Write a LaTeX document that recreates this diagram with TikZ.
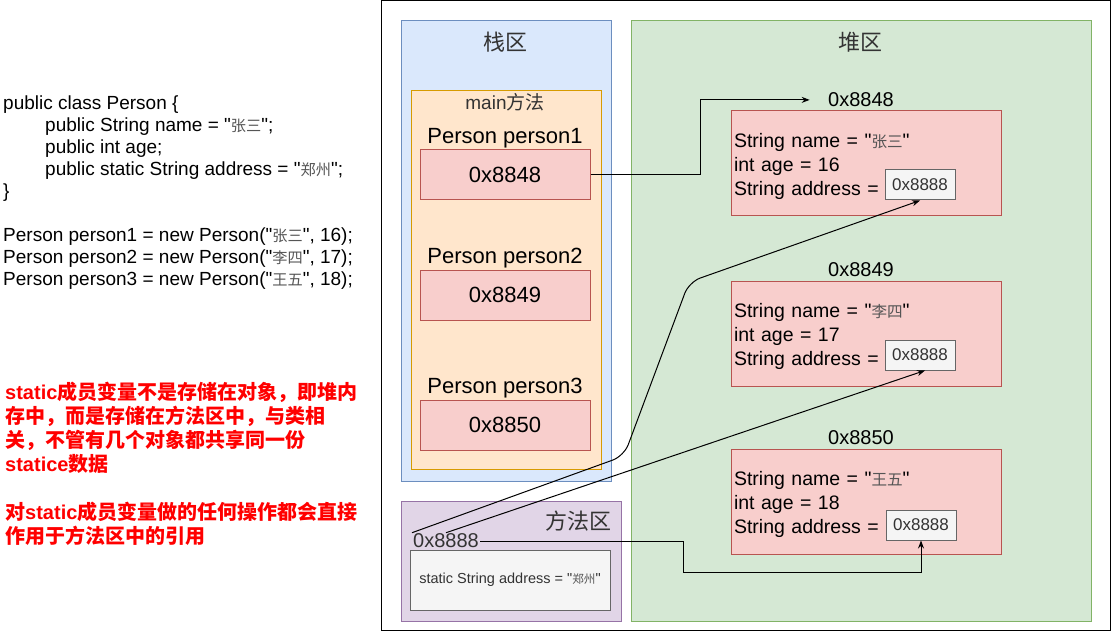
\documentclass[tikz,border=0pt]{standalone}
\usepackage{fontspec}
\newfontfamily\arial{Liberation Sans}
\newfontfamily\cjk{Noto Sans CJK SC}
\newfontfamily\cjksm[Scale=0.8]{Noto Sans CJK SC}
\usepackage{xcolor}
\usepackage{tikz}
\usetikzlibrary{arrows.meta, positioning}

\definecolor{stackfill}{HTML}{DAE8FC}
\definecolor{stackline}{HTML}{6C8EBF}
\definecolor{mainfill}{HTML}{FFE6CC}
\definecolor{mainline}{HTML}{D79B00}
\definecolor{valfill}{HTML}{F8CECC}
\definecolor{valline}{HTML}{B85450}
\definecolor{heapfill}{HTML}{D5E8D4}
\definecolor{heapline}{HTML}{82B366}
\definecolor{methfill}{HTML}{E1D5E7}
\definecolor{methline}{HTML}{9673A6}
\definecolor{reffill}{HTML}{F5F5F5}
\definecolor{refline}{HTML}{666666}
\definecolor{darktext}{HTML}{333333}
\definecolor{zhgray}{HTML}{555555}
\definecolor{notered}{HTML}{FF0000}

\newcommand{\zh}[1]{{\cjk #1}}
\newcommand{\zhs}[1]{{\cjksm\color{zhgray}#1}}
\newcommand{\fsz}[2]{\arial\fontsize{#1}{#2}\selectfont}

\tikzset{
  region/.style={rectangle, draw, line width=1pt, anchor=north west, inner sep=0pt},
  title/.style={font=\fsz{22}{26}, text=darktext},
  valbox/.style={rectangle, draw=valline, fill=valfill, line width=1pt, minimum width=170, minimum height=50, font=\fsz{22}{26}},
  varlabel/.style={font=\fsz{22}{26}},
  objbox/.style={rectangle, draw=valline, fill=valfill, line width=1pt, anchor=north west, minimum width=270, minimum height=105, text width=264, inner xsep=3pt, inner ysep=0pt, align=left, font=\fsz{19.5}{24}},
  addr/.style={font=\fsz{20}{24}},
  refbox/.style={rectangle, draw=refline, fill=reffill, line width=1pt, minimum width=70, minimum height=30, text=darktext, font=\fsz{17}{20}},
  arrow/.style={-{Stealth[length=8pt, width=6pt]}, line width=1pt},
}

\begin{document}
\begin{tikzpicture}[x=1pt, y=-1pt]
  \useasboundingbox (0,0) rectangle (1111,631);

  % source code and note
  \node[anchor=north west, inner sep=0pt, align=left, font=\fsz{19}{22}] (code) at (3,96) {public class Person \{\\
    \hspace*{42pt}public String name = "\zhs{张三}";\\
    \hspace*{42pt}public int age;\\
    \hspace*{42pt}public static String address = "\zhs{郑州}";\\
    \}\\[22pt]
    Person person1 = new Person("\zhs{张三}", 16);\\
    Person person2 = new Person("\zhs{李四}", 17);\\
    Person person3 = new Person("\zhs{王五}", 18);};
  \node[anchor=north west, inner sep=0pt, align=left, text=notered, font=\bfseries\fsz{20}{24}] (note) at (5,382) {static\zh{成员变量不是存储在对象，即堆内}\\
    \zh{存中，而是存储在方法区中，与类相}\\
    \zh{关，不管有几个对象都共享同一份}\\
    statice\zh{数据}\\[24pt]
    \zh{对}static\zh{成员变量做的任何操作都会直接}\\
    \zh{作用于方法区中的引用}};

  \node[region, draw=black, minimum width=729, minimum height=629] (mem) at (380.5,0.5) {};

  % stack
  \node[region, draw=stackline, fill=stackfill, minimum width=210, minimum height=460] (stack) at (400.5,20.5) {};
  \node[title] (stacktitle) at (505,42) {\zh{栈区}};
  \node[region, draw=mainline, fill=mainfill, minimum width=190, minimum height=378] (main) at (410.5,90.5) {};
  \node[font=\fsz{19}{22}, text=darktext] (maintitle) at (505,102) {main\zh{方法}};
  \node[valbox] (p1) at (505,175) {0x8848};
  \node[varlabel, above=-2pt of p1] (p1name) {Person person1};
  \node[valbox] (p2) at (505,295) {0x8849};
  \node[varlabel, above=-2pt of p2] (p2name) {Person person2};
  \node[valbox] (p3) at (505,425) {0x8850};
  \node[varlabel, above=-2pt of p3] (p3name) {Person person3};

  % heap
  \node[region, draw=heapline, fill=heapfill, minimum width=460, minimum height=600] (heap) at (630.5,20.5) {};
  \node[title] (heaptitle) at (860,42) {\zh{堆区}};
  \node[objbox] (obj1) at (730.5,110.5) {\rule{0pt}{20pt}String name = "\zhs{张三}"\\int age = 16\\String address =};
  \node[addr, above=0pt of obj1, xshift=-5pt] (addr1) {0x8848};
  \node[refbox] (ref1) at (920,185) {0x8888};
  \node[objbox] (obj2) at (730.5,280.5) {\rule{0pt}{20pt}String name = "\zhs{李四}"\\int age = 17\\String address =};
  \node[addr, above=0pt of obj2, xshift=-5pt] (addr2) {0x8849};
  \node[refbox] (ref2) at (920,355) {0x8888};
  \node[objbox] (obj3) at (730.5,448.5) {\rule{0pt}{20pt}String name = "\zhs{王五}"\\int age = 18\\String address =};
  \node[addr, above=0pt of obj3, xshift=-5pt] (addr3) {0x8850};
  \node[refbox] (ref3) at (921,525) {0x8888};

  % method area
  \node[region, draw=methline, fill=methfill, minimum width=220, minimum height=120] (meth) at (400.5,500.5) {};
  \node[title] (methtitle) at (578,521) {\zh{方法区}};
  \node[font=\fsz{20}{24}, text=darktext, inner sep=1pt] (sval) at (446,541) {0x8888};
  \node[rectangle, draw=refline, fill=reffill, line width=1pt, minimum width=200, minimum height=60, text=darktext, font=\fsz{14.5}{17}] (sdef) at (510,580) {static String address = "\zhs{郑州}"};

  % references
  \draw[arrow] (p1.east) -- ++(110,0) |- ([xshift=-15pt]addr1.west);
  \coordinate (bendA) at (624,456);
  \coordinate (bendB) at (689,282);
  \draw[arrow, rounded corners=12pt] (sval.north west) -- (bendA) -- (bendB) -- (ref1.south);
  \draw[arrow] (sval.north) -- ([xshift=5pt]ref2.south);
  \draw[arrow] (sval.east) -- ++(203,0) -- ++(0,31) -| (ref3.south);
\end{tikzpicture}
\end{document}
